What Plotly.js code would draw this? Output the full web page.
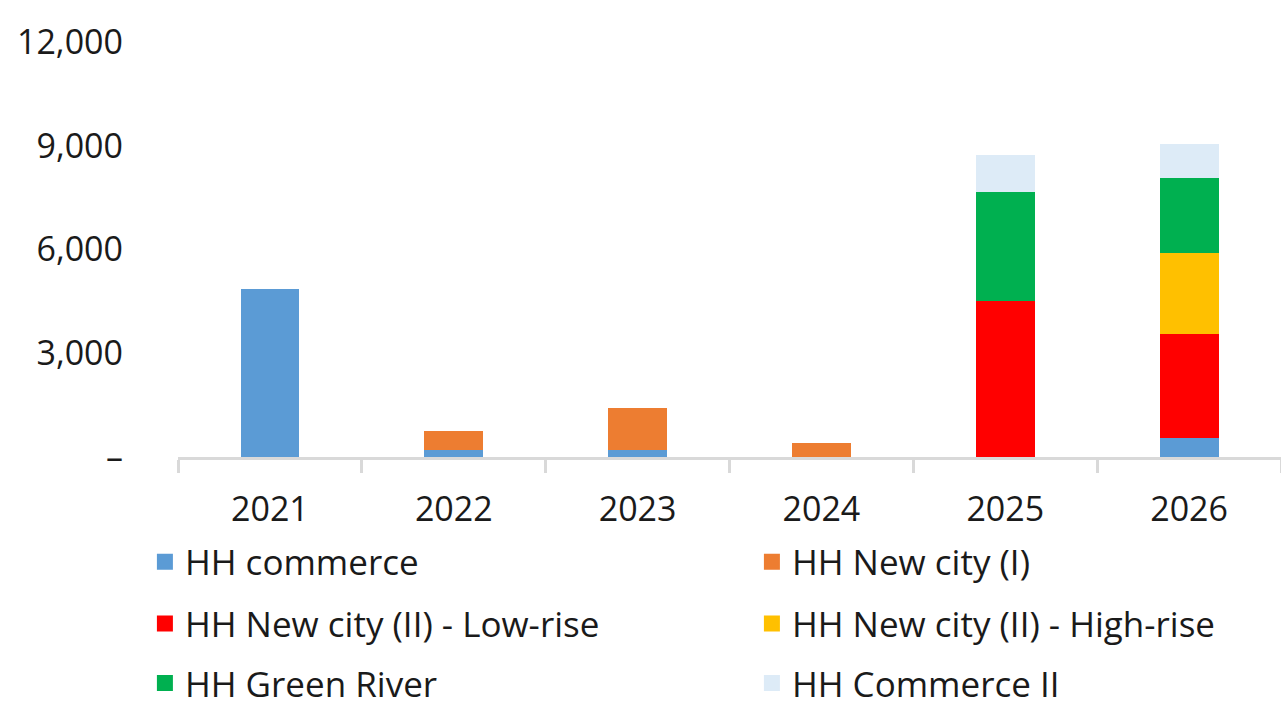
<!DOCTYPE html>
<html>
<head>
<meta charset="utf-8">
<script src="https://cdn.plot.ly/plotly-3.0.1.min.js"></script>
<style>html,body{margin:0;padding:0;background:#fff;}#chart{width:1281px;height:701px;}</style>
</head>
<body>
<div id="chart"></div>
<script>
// ---- data ----
const years = ['2021', '2022', '2023', '2024', '2025', '2026'];
const hhCommerce    = [4850, 210, 210, null, null, 540];
const hhNewCityI    = [null, 540, 1200, 400, null, null];
const hhLowRise     = [null, null, null, null, 4500, 3030];
const hhHighRise    = [null, null, null, null, null, 2330];
const hhGreenRiver  = [null, null, null, null, 3150, 2155];
const hhCommerceII  = [null, null, null, null, 1080, 1000];
const seriesNames = ['HH commerce', 'HH New city (I)', 'HH New city (II) - Low-rise',
                     'HH New city (II) - High-rise', 'HH Green River', 'HH Commerce II'];
const yTickVals = [0, 3000, 6000, 9000, 12000];
const yTickText = ['–', '3,000', '6,000', '9,000', '12,000'];

const colors = ['#5B9BD5', '#ED7D31', '#FF0000', '#FFC000', '#00B050', '#DDEBF7'];
const seriesData = [hhCommerce, hhNewCityI, hhLowRise, hhHighRise, hhGreenRiver, hhCommerceII];
const legendIds = ['legend', 'legend', 'legend2', 'legend2', 'legend3', 'legend3'];

const traces = [];
seriesData.forEach((vals, i) => {
  traces.push({
    type: 'bar', x: years, y: vals, name: seriesNames[i],
    marker: {color: colors[i], line: {width: 0}},
    showlegend: false, hoverinfo: 'x+y+name'
  });
});
seriesData.forEach((vals, i) => {
  traces.push({
    type: 'scatter', mode: 'markers', x: [null], y: [null], name: seriesNames[i],
    marker: {symbol: 'square', size: 20, color: colors[i]},
    legend: legendIds[i], showlegend: true, hoverinfo: 'skip'
  });
});

const family = '"Open Sans", "Noto Sans", sans-serif';
const tickFont = {family: family, size: 34, color: '#1a1a1a'};
const legendFont = {family: family, size: 35, color: '#1a1a1a'};
const legendBase = {
  orientation: 'h', xanchor: 'left', yanchor: 'middle', x: -0.03,
  entrywidth: 562, entrywidthmode: 'pixels', font: legendFont,
  bgcolor: 'rgba(0,0,0,0)', borderwidth: 0, traceorder: 'normal'
};

const layout = {
  width: 1281, height: 701,
  margin: {l: 178, r: 0, t: 42, b: 244, pad: 0, autoexpand: false},
  paper_bgcolor: '#fff', plot_bgcolor: '#fff',
  font: tickFont,
  barmode: 'stack', bargap: 0.68,
  xaxis: {
    type: 'category', showgrid: false, zeroline: false,
    showline: true, linecolor: '#d9d9d9', linewidth: 3,
    ticks: 'outside', tickson: 'boundaries', ticklen: 13, tickwidth: 3, tickcolor: '#d9d9d9',
    ticklabelstandoff: 20, tickfont: tickFont, fixedrange: true
  },
  yaxis: {
    range: [0, 12000], tickvals: yTickVals, ticktext: yTickText,
    showgrid: false, zeroline: false, showline: false, ticks: '',
    ticklabelstandoff: 54, tickfont: tickFont, fixedrange: true
  },
  legend:  Object.assign({}, legendBase, {y: -0.253}),
  legend2: Object.assign({}, legendBase, {y: -0.402}),
  legend3: Object.assign({}, legendBase, {y: -0.545}),
  showlegend: true
};

Plotly.newPlot('chart', traces, layout, {displayModeBar: false, staticPlot: true});
</script>
</body>
</html>
